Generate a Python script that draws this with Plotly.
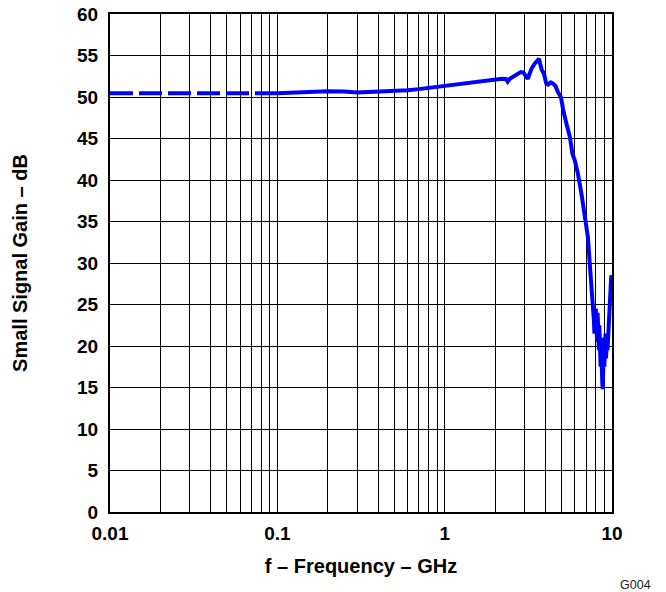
import plotly.graph_objects as go

# Dashed low-frequency segment (GHz, dB)
freq_dash = [0.01, 0.1]
gain_dash = [50.45, 50.45]

# Solid measured segment (GHz, dB)
freq_solid = [0.1, 0.12, 0.15, 0.18, 0.2, 0.25, 0.3, 0.35, 0.4, 0.5, 0.55, 0.6, 0.7, 0.8, 0.9,
              1.0, 1.2, 1.5, 1.8, 2.0, 2.2, 2.33, 2.38, 2.45, 2.56, 2.7, 2.85, 2.95, 3.05, 3.14,
              3.22, 3.3, 3.45, 3.56, 3.66, 3.72, 3.8, 3.92, 4.05, 4.15, 4.3, 4.45, 4.6, 4.75,
              4.95, 5.1, 5.2, 5.4, 5.6, 5.8, 6.0, 6.25, 6.55, 6.86, 7.0, 7.18, 7.3, 7.35, 7.45,
              7.52, 7.6, 7.69, 7.8, 7.85, 7.9, 7.95, 8.0, 8.05, 8.1, 8.15, 8.2, 8.25, 8.3, 8.35,
              8.4, 8.45, 8.5, 8.55, 8.6, 8.65, 8.7, 8.75, 8.8, 8.85, 8.9, 8.95, 9.0, 9.05, 9.1,
              9.15, 9.2, 9.3, 9.4, 9.5, 9.6, 9.7, 9.8, 9.9, 9.97]
gain_solid = [50.45, 50.5, 50.65, 50.7, 50.7, 50.65, 50.55, 50.6, 50.65, 50.7, 50.75, 50.8, 50.95, 51.1, 51.25,
              51.35, 51.55, 51.8, 52.0, 52.05, 52.2, 52.15, 51.85, 52.2, 52.45, 52.75, 53.0, 52.95, 52.5, 52.2,
              52.8, 53.4, 54.0, 54.4, 54.6, 54.0, 53.3, 52.8, 51.6, 51.5, 51.75, 51.6, 51.3, 50.6,
              50.0, 48.5, 47.6, 46.4, 45.2, 43.2, 42.3, 40.8, 38.5, 35.6, 34.5, 33.1, 31.0, 29.9, 28.5,
              27.5, 26.0, 24.7, 23.0, 21.5, 24.0, 22.0, 24.5, 21.5, 23.5, 20.5, 24.0, 21.0, 23.0, 19.5,
              22.5, 18.5, 21.5, 17.5, 21.0, 16.5, 20.0, 15.5, 14.8, 19.5, 17.0, 21.0, 17.5, 20.5, 18.0,
              21.5, 18.5, 20.0, 19.5, 22.0, 23.5, 25.5, 27.5, 28.5, 28.3]

x_tickvals = [m * 10 ** e for e in (-2, -1, 0) for m in range(1, 10)] + [10]
x_ticktext = [("0.01" if v == 0.01 else "0.1" if v == 0.1 else "1" if v == 1 else "10" if v == 10 else "")
              for v in x_tickvals]
y_tickvals = list(range(0, 61, 5))

FONT = "Liberation Sans, Arial, sans-serif"

fig = go.Figure()
fig.add_trace(go.Scatter(x=freq_dash, y=gain_dash, mode="lines",
                         line=dict(color="#0000FF", width=4, dash="23px,6px"),
                         showlegend=False, hoverinfo="skip"))
fig.add_trace(go.Scatter(x=freq_solid, y=gain_solid, mode="lines",
                         line=dict(color="#0000FF", width=4),
                         showlegend=False))

fig.update_layout(
    width=666, height=592,
    margin=dict(l=110, r=54, t=13.5, b=80),
    paper_bgcolor="white", plot_bgcolor="white",
    font=dict(family=FONT, color="black"),
    xaxis=dict(type="log", range=[-2, 1], tickvals=x_tickvals, ticktext=x_ticktext,
               showgrid=True, gridcolor="black", gridwidth=1,
               showline=True, linecolor="black", linewidth=2, mirror=True,
               ticks="", zeroline=False, automargin=False, ticklabelstandoff=3,
               tickfont=dict(size=19, weight="bold", family=FONT),
               title=dict(text="f – Frequency – GHz", standoff=16,
                          font=dict(size=20, weight="bold", family=FONT))),
    yaxis=dict(range=[0, 60], tickvals=y_tickvals,
               showgrid=True, gridcolor="black", gridwidth=1,
               showline=True, linecolor="black", linewidth=2, mirror=True,
               ticks="", zeroline=False, ticklabelstandoff=6, automargin=False,
               tickfont=dict(size=19, weight="bold", family=FONT),
               title=dict(text="Small Signal Gain – dB", standoff=44,
                          font=dict(size=20, weight="bold", family=FONT))),
    annotations=[dict(text="G004", xref="paper", yref="paper", x=1.0817, y=-0.1464,
                      xanchor="right", yanchor="middle", showarrow=False,
                      font=dict(size=12.5, family=FONT, color="#222"))],
)

# remove the browser's default 8px body margin so the figure sits at the page origin
fig.write_html("out.html", config={"displayModeBar": False},
               post_script="document.body.style.margin='0px';")
